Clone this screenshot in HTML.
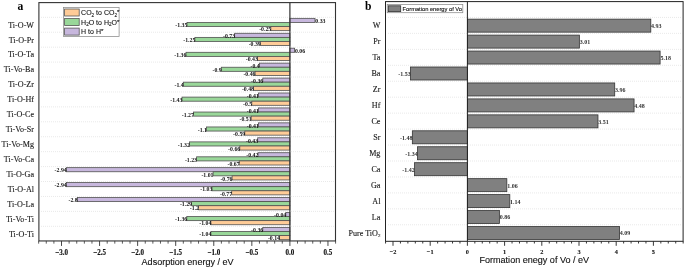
<!DOCTYPE html><html><head><meta charset="utf-8"><style>html,body{margin:0;padding:0;background:#fff;}svg{display:block;will-change:transform;}</style></head><body>
<svg width="685" height="268" viewBox="0 0 685 268">
<rect width="685" height="268" fill="#fff"/>
<line x1="41" y1="17.30" x2="334.50" y2="17.30" stroke="#e6e6e6" stroke-width="0.9" stroke-dasharray="1 1"/>
<line x1="41" y1="32.23" x2="334.50" y2="32.23" stroke="#e6e6e6" stroke-width="0.9" stroke-dasharray="1 1"/>
<line x1="41" y1="47.16" x2="334.50" y2="47.16" stroke="#e6e6e6" stroke-width="0.9" stroke-dasharray="1 1"/>
<line x1="41" y1="62.09" x2="334.50" y2="62.09" stroke="#e6e6e6" stroke-width="0.9" stroke-dasharray="1 1"/>
<line x1="41" y1="77.02" x2="334.50" y2="77.02" stroke="#e6e6e6" stroke-width="0.9" stroke-dasharray="1 1"/>
<line x1="41" y1="91.95" x2="334.50" y2="91.95" stroke="#e6e6e6" stroke-width="0.9" stroke-dasharray="1 1"/>
<line x1="41" y1="106.88" x2="334.50" y2="106.88" stroke="#e6e6e6" stroke-width="0.9" stroke-dasharray="1 1"/>
<line x1="41" y1="121.81" x2="334.50" y2="121.81" stroke="#e6e6e6" stroke-width="0.9" stroke-dasharray="1 1"/>
<line x1="41" y1="136.74" x2="334.50" y2="136.74" stroke="#e6e6e6" stroke-width="0.9" stroke-dasharray="1 1"/>
<line x1="41" y1="151.67" x2="334.50" y2="151.67" stroke="#e6e6e6" stroke-width="0.9" stroke-dasharray="1 1"/>
<line x1="41" y1="166.60" x2="334.50" y2="166.60" stroke="#e6e6e6" stroke-width="0.9" stroke-dasharray="1 1"/>
<line x1="41" y1="181.53" x2="334.50" y2="181.53" stroke="#e6e6e6" stroke-width="0.9" stroke-dasharray="1 1"/>
<line x1="41" y1="196.46" x2="334.50" y2="196.46" stroke="#e6e6e6" stroke-width="0.9" stroke-dasharray="1 1"/>
<line x1="41" y1="211.39" x2="334.50" y2="211.39" stroke="#e6e6e6" stroke-width="0.9" stroke-dasharray="1 1"/>
<line x1="41" y1="226.32" x2="334.50" y2="226.32" stroke="#e6e6e6" stroke-width="0.9" stroke-dasharray="1 1"/>
<rect x="289.90" y="18.35" width="25.10" height="4.1" fill="#C7B7DD" stroke="#505050" stroke-width="0.8"/>
<rect x="187.00" y="22.45" width="102.90" height="4.1" fill="#99D799" stroke="#505050" stroke-width="0.8"/>
<rect x="270.85" y="26.55" width="19.05" height="4.1" fill="#FECB97" stroke="#505050" stroke-width="0.8"/>
<rect x="234.65" y="33.28" width="55.25" height="4.1" fill="#C7B7DD" stroke="#505050" stroke-width="0.8"/>
<rect x="194.90" y="37.38" width="95.00" height="4.1" fill="#99D799" stroke="#505050" stroke-width="0.8"/>
<rect x="260.35" y="41.48" width="29.55" height="4.1" fill="#FECB97" stroke="#505050" stroke-width="0.8"/>
<rect x="289.90" y="48.21" width="4.70" height="4.1" fill="#C7B7DD" stroke="#505050" stroke-width="0.8"/>
<rect x="186.00" y="52.31" width="103.90" height="4.1" fill="#99D799" stroke="#505050" stroke-width="0.8"/>
<rect x="257.40" y="56.41" width="32.50" height="4.1" fill="#FECB97" stroke="#505050" stroke-width="0.8"/>
<rect x="259.30" y="63.14" width="30.60" height="4.1" fill="#C7B7DD" stroke="#505050" stroke-width="0.8"/>
<rect x="221.30" y="67.24" width="68.60" height="4.1" fill="#99D799" stroke="#505050" stroke-width="0.8"/>
<rect x="255.10" y="71.34" width="34.80" height="4.1" fill="#FECB97" stroke="#505050" stroke-width="0.8"/>
<rect x="262.80" y="78.07" width="27.10" height="4.1" fill="#C7B7DD" stroke="#505050" stroke-width="0.8"/>
<rect x="183.30" y="82.17" width="106.60" height="4.1" fill="#99D799" stroke="#505050" stroke-width="0.8"/>
<rect x="253.60" y="86.27" width="36.30" height="4.1" fill="#FECB97" stroke="#505050" stroke-width="0.8"/>
<rect x="258.40" y="93.00" width="31.50" height="4.1" fill="#C7B7DD" stroke="#505050" stroke-width="0.8"/>
<rect x="182.00" y="97.10" width="107.90" height="4.1" fill="#99D799" stroke="#505050" stroke-width="0.8"/>
<rect x="251.80" y="101.20" width="38.10" height="4.1" fill="#FECB97" stroke="#505050" stroke-width="0.8"/>
<rect x="258.40" y="107.93" width="31.50" height="4.1" fill="#C7B7DD" stroke="#505050" stroke-width="0.8"/>
<rect x="193.40" y="112.03" width="96.50" height="4.1" fill="#99D799" stroke="#505050" stroke-width="0.8"/>
<rect x="251.20" y="116.13" width="38.70" height="4.1" fill="#FECB97" stroke="#505050" stroke-width="0.8"/>
<rect x="258.40" y="122.86" width="31.50" height="4.1" fill="#C7B7DD" stroke="#505050" stroke-width="0.8"/>
<rect x="206.50" y="126.96" width="83.40" height="4.1" fill="#99D799" stroke="#505050" stroke-width="0.8"/>
<rect x="244.80" y="131.06" width="45.10" height="4.1" fill="#FECB97" stroke="#505050" stroke-width="0.8"/>
<rect x="257.70" y="137.79" width="32.20" height="4.1" fill="#C7B7DD" stroke="#505050" stroke-width="0.8"/>
<rect x="189.40" y="141.89" width="100.50" height="4.1" fill="#99D799" stroke="#505050" stroke-width="0.8"/>
<rect x="239.80" y="145.99" width="50.10" height="4.1" fill="#FECB97" stroke="#505050" stroke-width="0.8"/>
<rect x="258.00" y="152.72" width="31.90" height="4.1" fill="#C7B7DD" stroke="#505050" stroke-width="0.8"/>
<rect x="196.60" y="156.82" width="93.30" height="4.1" fill="#99D799" stroke="#505050" stroke-width="0.8"/>
<rect x="239.20" y="160.92" width="50.70" height="4.1" fill="#FECB97" stroke="#505050" stroke-width="0.8"/>
<rect x="66.30" y="167.65" width="223.60" height="4.1" fill="#C7B7DD" stroke="#505050" stroke-width="0.8"/>
<rect x="213.10" y="171.75" width="76.80" height="4.1" fill="#99D799" stroke="#505050" stroke-width="0.8"/>
<rect x="232.10" y="175.85" width="57.80" height="4.1" fill="#FECB97" stroke="#505050" stroke-width="0.8"/>
<rect x="66.30" y="182.58" width="223.60" height="4.1" fill="#C7B7DD" stroke="#505050" stroke-width="0.8"/>
<rect x="212.00" y="186.68" width="77.90" height="4.1" fill="#99D799" stroke="#505050" stroke-width="0.8"/>
<rect x="231.70" y="190.78" width="58.20" height="4.1" fill="#FECB97" stroke="#505050" stroke-width="0.8"/>
<rect x="77.30" y="197.51" width="212.60" height="4.1" fill="#C7B7DD" stroke="#505050" stroke-width="0.8"/>
<rect x="191.60" y="201.61" width="98.30" height="4.1" fill="#99D799" stroke="#505050" stroke-width="0.8"/>
<rect x="198.60" y="205.71" width="91.30" height="4.1" fill="#FECB97" stroke="#505050" stroke-width="0.8"/>
<rect x="285.80" y="212.44" width="4.10" height="4.1" fill="#C7B7DD" stroke="#505050" stroke-width="0.8"/>
<rect x="186.80" y="216.54" width="103.10" height="4.1" fill="#99D799" stroke="#505050" stroke-width="0.8"/>
<rect x="210.90" y="220.64" width="79.00" height="4.1" fill="#FECB97" stroke="#505050" stroke-width="0.8"/>
<rect x="262.80" y="227.37" width="27.10" height="4.1" fill="#C7B7DD" stroke="#505050" stroke-width="0.8"/>
<rect x="210.90" y="231.47" width="79.00" height="4.1" fill="#99D799" stroke="#505050" stroke-width="0.8"/>
<rect x="279.60" y="235.57" width="10.30" height="4.1" fill="#FECB97" stroke="#505050" stroke-width="0.8"/>
<text x="315.30" y="23.10" class="vl">0.33</text>
<text x="187.40" y="27.20" text-anchor="end" class="vl">-1.35</text>
<text x="271.25" y="31.30" text-anchor="end" class="vl">-0.25</text>
<text x="235.05" y="38.03" text-anchor="end" class="vl">-0.73</text>
<text x="195.30" y="42.13" text-anchor="end" class="vl">-1.25</text>
<text x="260.75" y="46.23" text-anchor="end" class="vl">-0.39</text>
<text x="294.90" y="52.96" class="vl">0.06</text>
<text x="186.40" y="57.06" text-anchor="end" class="vl">-1.36</text>
<text x="257.80" y="61.16" text-anchor="end" class="vl">-0.43</text>
<text x="259.70" y="67.89" text-anchor="end" class="vl">-0.4</text>
<text x="221.70" y="71.99" text-anchor="end" class="vl">-0.9</text>
<text x="255.50" y="76.09" text-anchor="end" class="vl">-0.46</text>
<text x="263.20" y="82.82" text-anchor="end" class="vl">-0.36</text>
<text x="183.70" y="86.92" text-anchor="end" class="vl">-1.4</text>
<text x="254.00" y="91.02" text-anchor="end" class="vl">-0.48</text>
<text x="258.80" y="97.75" text-anchor="end" class="vl">-0.41</text>
<text x="182.40" y="101.85" text-anchor="end" class="vl">-1.43</text>
<text x="252.20" y="105.95" text-anchor="end" class="vl">-0.5</text>
<text x="258.80" y="112.68" text-anchor="end" class="vl">-0.41</text>
<text x="193.80" y="116.78" text-anchor="end" class="vl">-1.27</text>
<text x="251.60" y="120.88" text-anchor="end" class="vl">-0.51</text>
<text x="258.80" y="127.61" text-anchor="end" class="vl">-0.41</text>
<text x="206.90" y="131.71" text-anchor="end" class="vl">-1.1</text>
<text x="245.20" y="135.81" text-anchor="end" class="vl">-0.59</text>
<text x="258.10" y="142.54" text-anchor="end" class="vl">-0.43</text>
<text x="189.80" y="146.64" text-anchor="end" class="vl">-1.32</text>
<text x="240.20" y="150.74" text-anchor="end" class="vl">-0.66</text>
<text x="258.40" y="157.47" text-anchor="end" class="vl">-0.42</text>
<text x="197.00" y="161.57" text-anchor="end" class="vl">-1.23</text>
<text x="239.60" y="165.67" text-anchor="end" class="vl">-0.67</text>
<text x="66.70" y="172.40" text-anchor="end" class="vl">-2.94</text>
<text x="213.50" y="176.50" text-anchor="end" class="vl">-1.01</text>
<text x="232.50" y="180.60" text-anchor="end" class="vl">-0.76</text>
<text x="66.70" y="187.33" text-anchor="end" class="vl">-2.94</text>
<text x="212.40" y="191.43" text-anchor="end" class="vl">-1.03</text>
<text x="232.10" y="195.53" text-anchor="end" class="vl">-0.77</text>
<text x="77.70" y="202.26" text-anchor="end" class="vl">-2.8</text>
<text x="192.00" y="206.36" text-anchor="end" class="vl">-1.29</text>
<text x="199.00" y="210.46" text-anchor="end" class="vl">-1.2</text>
<text x="286.20" y="217.19" text-anchor="end" class="vl">-0.04</text>
<text x="187.20" y="221.29" text-anchor="end" class="vl">-1.36</text>
<text x="211.30" y="225.39" text-anchor="end" class="vl">-1.04</text>
<text x="263.20" y="232.12" text-anchor="end" class="vl">-0.36</text>
<text x="211.30" y="236.22" text-anchor="end" class="vl">-1.04</text>
<text x="280.00" y="240.32" text-anchor="end" class="vl">-0.14</text>
<line x1="289.90" y1="2.60" x2="289.90" y2="240.95" stroke="#333" stroke-width="1.2"/>
<rect x="38.90" y="2.60" width="296.60" height="238.35" fill="none" stroke="#333" stroke-width="1.1"/>
<line x1="38.67" y1="240.95" x2="38.67" y2="243.65" stroke="#333" stroke-width="0.8"/>
<line x1="46.28" y1="240.95" x2="46.28" y2="243.65" stroke="#333" stroke-width="0.8"/>
<line x1="53.90" y1="240.95" x2="53.90" y2="243.65" stroke="#333" stroke-width="0.8"/>
<line x1="61.51" y1="240.95" x2="61.51" y2="245.95" stroke="#333" stroke-width="0.9"/>
<text transform="translate(61.51,254.5) scale(0.9,1)" text-anchor="middle" class="tl">−3.0</text>
<line x1="69.12" y1="240.95" x2="69.12" y2="243.65" stroke="#333" stroke-width="0.8"/>
<line x1="76.74" y1="240.95" x2="76.74" y2="243.65" stroke="#333" stroke-width="0.8"/>
<line x1="84.35" y1="240.95" x2="84.35" y2="243.65" stroke="#333" stroke-width="0.8"/>
<line x1="91.96" y1="240.95" x2="91.96" y2="243.65" stroke="#333" stroke-width="0.8"/>
<line x1="99.57" y1="240.95" x2="99.57" y2="245.95" stroke="#333" stroke-width="0.9"/>
<text transform="translate(99.57,254.5) scale(0.9,1)" text-anchor="middle" class="tl">−2.5</text>
<line x1="107.19" y1="240.95" x2="107.19" y2="243.65" stroke="#333" stroke-width="0.8"/>
<line x1="114.80" y1="240.95" x2="114.80" y2="243.65" stroke="#333" stroke-width="0.8"/>
<line x1="122.41" y1="240.95" x2="122.41" y2="243.65" stroke="#333" stroke-width="0.8"/>
<line x1="130.03" y1="240.95" x2="130.03" y2="243.65" stroke="#333" stroke-width="0.8"/>
<line x1="137.64" y1="240.95" x2="137.64" y2="245.95" stroke="#333" stroke-width="0.9"/>
<text transform="translate(137.64,254.5) scale(0.9,1)" text-anchor="middle" class="tl">−2.0</text>
<line x1="145.25" y1="240.95" x2="145.25" y2="243.65" stroke="#333" stroke-width="0.8"/>
<line x1="152.87" y1="240.95" x2="152.87" y2="243.65" stroke="#333" stroke-width="0.8"/>
<line x1="160.48" y1="240.95" x2="160.48" y2="243.65" stroke="#333" stroke-width="0.8"/>
<line x1="168.09" y1="240.95" x2="168.09" y2="243.65" stroke="#333" stroke-width="0.8"/>
<line x1="175.70" y1="240.95" x2="175.70" y2="245.95" stroke="#333" stroke-width="0.9"/>
<text transform="translate(175.70,254.5) scale(0.9,1)" text-anchor="middle" class="tl">−1.5</text>
<line x1="183.32" y1="240.95" x2="183.32" y2="243.65" stroke="#333" stroke-width="0.8"/>
<line x1="190.93" y1="240.95" x2="190.93" y2="243.65" stroke="#333" stroke-width="0.8"/>
<line x1="198.54" y1="240.95" x2="198.54" y2="243.65" stroke="#333" stroke-width="0.8"/>
<line x1="206.16" y1="240.95" x2="206.16" y2="243.65" stroke="#333" stroke-width="0.8"/>
<line x1="213.77" y1="240.95" x2="213.77" y2="245.95" stroke="#333" stroke-width="0.9"/>
<text transform="translate(213.77,254.5) scale(0.9,1)" text-anchor="middle" class="tl">−1.0</text>
<line x1="221.38" y1="240.95" x2="221.38" y2="243.65" stroke="#333" stroke-width="0.8"/>
<line x1="229.00" y1="240.95" x2="229.00" y2="243.65" stroke="#333" stroke-width="0.8"/>
<line x1="236.61" y1="240.95" x2="236.61" y2="243.65" stroke="#333" stroke-width="0.8"/>
<line x1="244.22" y1="240.95" x2="244.22" y2="243.65" stroke="#333" stroke-width="0.8"/>
<line x1="251.83" y1="240.95" x2="251.83" y2="245.95" stroke="#333" stroke-width="0.9"/>
<text transform="translate(251.83,254.5) scale(0.9,1)" text-anchor="middle" class="tl">−0.5</text>
<line x1="259.45" y1="240.95" x2="259.45" y2="243.65" stroke="#333" stroke-width="0.8"/>
<line x1="267.06" y1="240.95" x2="267.06" y2="243.65" stroke="#333" stroke-width="0.8"/>
<line x1="274.67" y1="240.95" x2="274.67" y2="243.65" stroke="#333" stroke-width="0.8"/>
<line x1="282.29" y1="240.95" x2="282.29" y2="243.65" stroke="#333" stroke-width="0.8"/>
<line x1="289.90" y1="240.95" x2="289.90" y2="245.95" stroke="#333" stroke-width="0.9"/>
<text transform="translate(289.90,254.5) scale(0.9,1)" text-anchor="middle" class="tl">0.0</text>
<line x1="297.51" y1="240.95" x2="297.51" y2="243.65" stroke="#333" stroke-width="0.8"/>
<line x1="305.13" y1="240.95" x2="305.13" y2="243.65" stroke="#333" stroke-width="0.8"/>
<line x1="312.74" y1="240.95" x2="312.74" y2="243.65" stroke="#333" stroke-width="0.8"/>
<line x1="320.35" y1="240.95" x2="320.35" y2="243.65" stroke="#333" stroke-width="0.8"/>
<line x1="327.96" y1="240.95" x2="327.96" y2="245.95" stroke="#333" stroke-width="0.9"/>
<text transform="translate(327.96,254.5) scale(0.9,1)" text-anchor="middle" class="tl">0.5</text>
<line x1="335.58" y1="240.95" x2="335.58" y2="243.65" stroke="#333" stroke-width="0.8"/>
<text x="34.0" y="27.60" text-anchor="end" class="cl">Ti-O-W</text>
<text x="34.0" y="42.53" text-anchor="end" class="cl">Ti-O-Pr</text>
<text x="34.0" y="57.46" text-anchor="end" class="cl">Ti-O-Ta</text>
<text x="34.0" y="72.39" text-anchor="end" class="cl">Ti-Vo-Ba</text>
<text x="34.0" y="87.32" text-anchor="end" class="cl">Ti-O-Zr</text>
<text x="34.0" y="102.25" text-anchor="end" class="cl">Ti-O-Hf</text>
<text x="34.0" y="117.18" text-anchor="end" class="cl">Ti-O-Ce</text>
<text x="34.0" y="132.11" text-anchor="end" class="cl">Ti-Vo-Sr</text>
<text x="34.0" y="147.04" text-anchor="end" class="cl">Ti-Vo-Mg</text>
<text x="34.0" y="161.97" text-anchor="end" class="cl">Ti-Vo-Ca</text>
<text x="34.0" y="176.90" text-anchor="end" class="cl">Ti-O-Ga</text>
<text x="34.0" y="191.83" text-anchor="end" class="cl">Ti-O-Al</text>
<text x="34.0" y="206.76" text-anchor="end" class="cl">Ti-O-La</text>
<text x="34.0" y="221.69" text-anchor="end" class="cl">Ti-Vo-Ti</text>
<text x="34.0" y="236.62" text-anchor="end" class="cl">Ti-O-Ti</text>
<rect x="63.4" y="7.4" width="55.7" height="29.1" fill="#fff" stroke="#8a8a8a" stroke-width="0.75"/>
<rect x="64.6" y="9.00" width="14.6" height="7.0" fill="#FECB97" stroke="#555" stroke-width="0.8"/>
<text x="81.1" y="15.10" class="lg">CO<tspan font-size="4.6" dy="1.5">2</tspan><tspan dy="-1.5"> to CO</tspan><tspan font-size="4.6" dy="1.5">2</tspan><tspan font-size="6.2" dy="-2.3">*</tspan></text>
<rect x="64.6" y="18.55" width="14.6" height="7.0" fill="#99D799" stroke="#555" stroke-width="0.8"/>
<text x="81.1" y="24.65" class="lg">H<tspan font-size="4.6" dy="1.5">2</tspan><tspan dy="-1.5">O to H</tspan><tspan font-size="4.6" dy="1.5">2</tspan><tspan dy="-1.5">O</tspan><tspan font-size="6.2" dy="-0.8">*</tspan></text>
<rect x="64.6" y="28.10" width="14.6" height="7.0" fill="#C7B7DD" stroke="#555" stroke-width="0.8"/>
<text x="81.1" y="34.20" class="lg">H to H<tspan font-size="6.2" dy="-0.8">*</tspan></text>
<text x="20.5" y="9.8" text-anchor="middle" class="pl">a</text>
<text x="187.6" y="264.8" text-anchor="middle" class="at">Adsorption energy / eV</text>
<line x1="388" y1="17.45" x2="682.10" y2="17.45" stroke="#e6e6e6" stroke-width="0.9" stroke-dasharray="1 1"/>
<line x1="388" y1="33.40" x2="682.10" y2="33.40" stroke="#e6e6e6" stroke-width="0.9" stroke-dasharray="1 1"/>
<line x1="388" y1="49.35" x2="682.10" y2="49.35" stroke="#e6e6e6" stroke-width="0.9" stroke-dasharray="1 1"/>
<line x1="388" y1="65.30" x2="682.10" y2="65.30" stroke="#e6e6e6" stroke-width="0.9" stroke-dasharray="1 1"/>
<line x1="388" y1="81.25" x2="682.10" y2="81.25" stroke="#e6e6e6" stroke-width="0.9" stroke-dasharray="1 1"/>
<line x1="388" y1="97.20" x2="682.10" y2="97.20" stroke="#e6e6e6" stroke-width="0.9" stroke-dasharray="1 1"/>
<line x1="388" y1="113.15" x2="682.10" y2="113.15" stroke="#e6e6e6" stroke-width="0.9" stroke-dasharray="1 1"/>
<line x1="388" y1="129.10" x2="682.10" y2="129.10" stroke="#e6e6e6" stroke-width="0.9" stroke-dasharray="1 1"/>
<line x1="388" y1="145.05" x2="682.10" y2="145.05" stroke="#e6e6e6" stroke-width="0.9" stroke-dasharray="1 1"/>
<line x1="388" y1="161.00" x2="682.10" y2="161.00" stroke="#e6e6e6" stroke-width="0.9" stroke-dasharray="1 1"/>
<line x1="388" y1="176.95" x2="682.10" y2="176.95" stroke="#e6e6e6" stroke-width="0.9" stroke-dasharray="1 1"/>
<line x1="388" y1="192.90" x2="682.10" y2="192.90" stroke="#e6e6e6" stroke-width="0.9" stroke-dasharray="1 1"/>
<line x1="388" y1="208.85" x2="682.10" y2="208.85" stroke="#e6e6e6" stroke-width="0.9" stroke-dasharray="1 1"/>
<line x1="388" y1="224.80" x2="682.10" y2="224.80" stroke="#e6e6e6" stroke-width="0.9" stroke-dasharray="1 1"/>
<rect x="467.40" y="19.15" width="183.40" height="13.0" fill="#808080" stroke="#333" stroke-width="0.8"/>
<text x="651.10" y="28.05" class="vlb">4.93</text>
<rect x="467.40" y="35.10" width="111.97" height="13.0" fill="#808080" stroke="#333" stroke-width="0.8"/>
<text x="579.67" y="44.00" class="vlb">3.01</text>
<rect x="467.40" y="51.05" width="192.70" height="13.0" fill="#808080" stroke="#333" stroke-width="0.8"/>
<text x="660.40" y="59.95" class="vlb">5.18</text>
<rect x="410.48" y="67.00" width="56.92" height="13.0" fill="#808080" stroke="#333" stroke-width="0.8"/>
<text x="410.68" y="75.90" text-anchor="end" class="vlb">-1.53</text>
<rect x="467.40" y="82.95" width="147.31" height="13.0" fill="#808080" stroke="#333" stroke-width="0.8"/>
<text x="615.01" y="91.85" class="vlb">3.96</text>
<rect x="467.40" y="98.90" width="166.66" height="13.0" fill="#808080" stroke="#333" stroke-width="0.8"/>
<text x="634.36" y="107.80" class="vlb">4.48</text>
<rect x="467.40" y="114.85" width="130.57" height="13.0" fill="#808080" stroke="#333" stroke-width="0.8"/>
<text x="598.27" y="123.75" class="vlb">3.51</text>
<rect x="412.34" y="130.80" width="55.06" height="13.0" fill="#808080" stroke="#333" stroke-width="0.8"/>
<text x="412.54" y="139.70" text-anchor="end" class="vlb">-1.48</text>
<rect x="417.55" y="146.75" width="49.85" height="13.0" fill="#808080" stroke="#333" stroke-width="0.8"/>
<text x="417.75" y="155.65" text-anchor="end" class="vlb">-1.34</text>
<rect x="414.58" y="162.70" width="52.82" height="13.0" fill="#808080" stroke="#333" stroke-width="0.8"/>
<text x="414.78" y="171.60" text-anchor="end" class="vlb">-1.42</text>
<rect x="467.40" y="178.65" width="39.43" height="13.0" fill="#808080" stroke="#333" stroke-width="0.8"/>
<text x="507.13" y="187.55" class="vlb">1.06</text>
<rect x="467.40" y="194.60" width="42.41" height="13.0" fill="#808080" stroke="#333" stroke-width="0.8"/>
<text x="510.11" y="203.50" class="vlb">1.14</text>
<rect x="467.40" y="210.55" width="31.99" height="13.0" fill="#808080" stroke="#333" stroke-width="0.8"/>
<text x="499.69" y="219.45" class="vlb">0.86</text>
<rect x="467.40" y="226.50" width="152.15" height="13.0" fill="#808080" stroke="#333" stroke-width="0.8"/>
<text x="619.85" y="235.40" class="vlb">4.09</text>
<line x1="467.40" y1="1.60" x2="467.40" y2="241.30" stroke="#222" stroke-width="1"/>
<rect x="385.50" y="1.60" width="297.60" height="239.70" fill="none" stroke="#222" stroke-width="1"/>
<line x1="385.56" y1="241.30" x2="385.56" y2="243.50" stroke="#222" stroke-width="0.9"/>
<line x1="393.00" y1="241.30" x2="393.00" y2="245.80" stroke="#222" stroke-width="0.9"/>
<text transform="translate(393.00,254.4) scale(0.9,1)" text-anchor="middle" class="tlb">−2</text>
<line x1="400.44" y1="241.30" x2="400.44" y2="243.50" stroke="#222" stroke-width="0.9"/>
<line x1="407.88" y1="241.30" x2="407.88" y2="243.50" stroke="#222" stroke-width="0.9"/>
<line x1="415.32" y1="241.30" x2="415.32" y2="243.50" stroke="#222" stroke-width="0.9"/>
<line x1="422.76" y1="241.30" x2="422.76" y2="243.50" stroke="#222" stroke-width="0.9"/>
<line x1="430.20" y1="241.30" x2="430.20" y2="245.80" stroke="#222" stroke-width="0.9"/>
<text transform="translate(430.20,254.4) scale(0.9,1)" text-anchor="middle" class="tlb">−1</text>
<line x1="437.64" y1="241.30" x2="437.64" y2="243.50" stroke="#222" stroke-width="0.9"/>
<line x1="445.08" y1="241.30" x2="445.08" y2="243.50" stroke="#222" stroke-width="0.9"/>
<line x1="452.52" y1="241.30" x2="452.52" y2="243.50" stroke="#222" stroke-width="0.9"/>
<line x1="459.96" y1="241.30" x2="459.96" y2="243.50" stroke="#222" stroke-width="0.9"/>
<line x1="467.40" y1="241.30" x2="467.40" y2="245.80" stroke="#222" stroke-width="0.9"/>
<text transform="translate(467.40,254.4) scale(0.9,1)" text-anchor="middle" class="tlb">0</text>
<line x1="474.84" y1="241.30" x2="474.84" y2="243.50" stroke="#222" stroke-width="0.9"/>
<line x1="482.28" y1="241.30" x2="482.28" y2="243.50" stroke="#222" stroke-width="0.9"/>
<line x1="489.72" y1="241.30" x2="489.72" y2="243.50" stroke="#222" stroke-width="0.9"/>
<line x1="497.16" y1="241.30" x2="497.16" y2="243.50" stroke="#222" stroke-width="0.9"/>
<line x1="504.60" y1="241.30" x2="504.60" y2="245.80" stroke="#222" stroke-width="0.9"/>
<text transform="translate(504.60,254.4) scale(0.9,1)" text-anchor="middle" class="tlb">1</text>
<line x1="512.04" y1="241.30" x2="512.04" y2="243.50" stroke="#222" stroke-width="0.9"/>
<line x1="519.48" y1="241.30" x2="519.48" y2="243.50" stroke="#222" stroke-width="0.9"/>
<line x1="526.92" y1="241.30" x2="526.92" y2="243.50" stroke="#222" stroke-width="0.9"/>
<line x1="534.36" y1="241.30" x2="534.36" y2="243.50" stroke="#222" stroke-width="0.9"/>
<line x1="541.80" y1="241.30" x2="541.80" y2="245.80" stroke="#222" stroke-width="0.9"/>
<text transform="translate(541.80,254.4) scale(0.9,1)" text-anchor="middle" class="tlb">2</text>
<line x1="549.24" y1="241.30" x2="549.24" y2="243.50" stroke="#222" stroke-width="0.9"/>
<line x1="556.68" y1="241.30" x2="556.68" y2="243.50" stroke="#222" stroke-width="0.9"/>
<line x1="564.12" y1="241.30" x2="564.12" y2="243.50" stroke="#222" stroke-width="0.9"/>
<line x1="571.56" y1="241.30" x2="571.56" y2="243.50" stroke="#222" stroke-width="0.9"/>
<line x1="579.00" y1="241.30" x2="579.00" y2="245.80" stroke="#222" stroke-width="0.9"/>
<text transform="translate(579.00,254.4) scale(0.9,1)" text-anchor="middle" class="tlb">3</text>
<line x1="586.44" y1="241.30" x2="586.44" y2="243.50" stroke="#222" stroke-width="0.9"/>
<line x1="593.88" y1="241.30" x2="593.88" y2="243.50" stroke="#222" stroke-width="0.9"/>
<line x1="601.32" y1="241.30" x2="601.32" y2="243.50" stroke="#222" stroke-width="0.9"/>
<line x1="608.76" y1="241.30" x2="608.76" y2="243.50" stroke="#222" stroke-width="0.9"/>
<line x1="616.20" y1="241.30" x2="616.20" y2="245.80" stroke="#222" stroke-width="0.9"/>
<text transform="translate(616.20,254.4) scale(0.9,1)" text-anchor="middle" class="tlb">4</text>
<line x1="623.64" y1="241.30" x2="623.64" y2="243.50" stroke="#222" stroke-width="0.9"/>
<line x1="631.08" y1="241.30" x2="631.08" y2="243.50" stroke="#222" stroke-width="0.9"/>
<line x1="638.52" y1="241.30" x2="638.52" y2="243.50" stroke="#222" stroke-width="0.9"/>
<line x1="645.96" y1="241.30" x2="645.96" y2="243.50" stroke="#222" stroke-width="0.9"/>
<line x1="653.40" y1="241.30" x2="653.40" y2="245.80" stroke="#222" stroke-width="0.9"/>
<text transform="translate(653.40,254.4) scale(0.9,1)" text-anchor="middle" class="tlb">5</text>
<line x1="660.84" y1="241.30" x2="660.84" y2="243.50" stroke="#222" stroke-width="0.9"/>
<line x1="668.28" y1="241.30" x2="668.28" y2="243.50" stroke="#222" stroke-width="0.9"/>
<line x1="675.72" y1="241.30" x2="675.72" y2="243.50" stroke="#222" stroke-width="0.9"/>
<line x1="683.16" y1="241.30" x2="683.16" y2="243.50" stroke="#222" stroke-width="0.9"/>
<text x="380.4" y="28.15" text-anchor="end" class="cl">W</text>
<text x="380.4" y="44.10" text-anchor="end" class="cl">Pr</text>
<text x="380.4" y="60.05" text-anchor="end" class="cl">Ta</text>
<text x="380.4" y="76.00" text-anchor="end" class="cl">Ba</text>
<text x="380.4" y="91.95" text-anchor="end" class="cl">Zr</text>
<text x="380.4" y="107.90" text-anchor="end" class="cl">Hf</text>
<text x="380.4" y="123.85" text-anchor="end" class="cl">Ce</text>
<text x="380.4" y="139.80" text-anchor="end" class="cl">Sr</text>
<text x="380.4" y="155.75" text-anchor="end" class="cl">Mg</text>
<text x="380.4" y="171.70" text-anchor="end" class="cl">Ca</text>
<text x="380.4" y="187.65" text-anchor="end" class="cl">Ga</text>
<text x="380.4" y="203.60" text-anchor="end" class="cl">Al</text>
<text x="380.4" y="219.55" text-anchor="end" class="cl">La</text>
<text x="380.4" y="235.50" text-anchor="end" class="cl">Pure TiO<tspan font-size='5' dy='1.6'>2</tspan></text>
<rect x="387.2" y="4.5" width="75.6" height="8.2" fill="#fff" stroke="#8a8a8a" stroke-width="0.75"/>
<rect x="388.3" y="5.8" width="12.4" height="5.8" fill="#808080" stroke="#333" stroke-width="0.8"/>
<text x="402.6" y="10.7" class="lg2">Formation energy of Vo</text>
<text x="368.2" y="9.6" text-anchor="middle" class="pl">b</text>
<text x="534.3" y="262.8" text-anchor="middle" class="at">Formation enegy of Vo / eV</text>
</svg>
<style>
.vl{font-family:"Liberation Serif",serif;font-weight:bold;font-size:5.8px;fill:#111;}
.vlb{font-family:"Liberation Serif",serif;font-weight:bold;font-size:6.0px;fill:#333;}
.tl{font-family:"Liberation Serif",serif;font-weight:bold;font-size:7.8px;fill:#111;stroke:#111;stroke-width:0.15px;}
.tlb{font-family:"Liberation Serif",serif;font-weight:bold;font-size:7.0px;fill:#111;stroke:#111;stroke-width:0.1px;}
.cl{font-family:"Liberation Serif",serif;font-size:8.1px;fill:#1a1a1a;stroke:#1a1a1a;stroke-width:0.12px;}
.lg{font-family:"Liberation Sans",sans-serif;font-size:7.0px;fill:#111;stroke:#111;stroke-width:0.1px;}
.lg2{font-family:"Liberation Sans",sans-serif;font-size:5.72px;fill:#111;stroke:#111;stroke-width:0.12px;}
.pl{font-family:"Liberation Serif",serif;font-weight:bold;font-size:11.6px;fill:#000;}
.at{font-family:"Liberation Sans",sans-serif;font-size:9.05px;fill:#111;stroke:#111;stroke-width:0.12px;}
</style>
</body></html>
